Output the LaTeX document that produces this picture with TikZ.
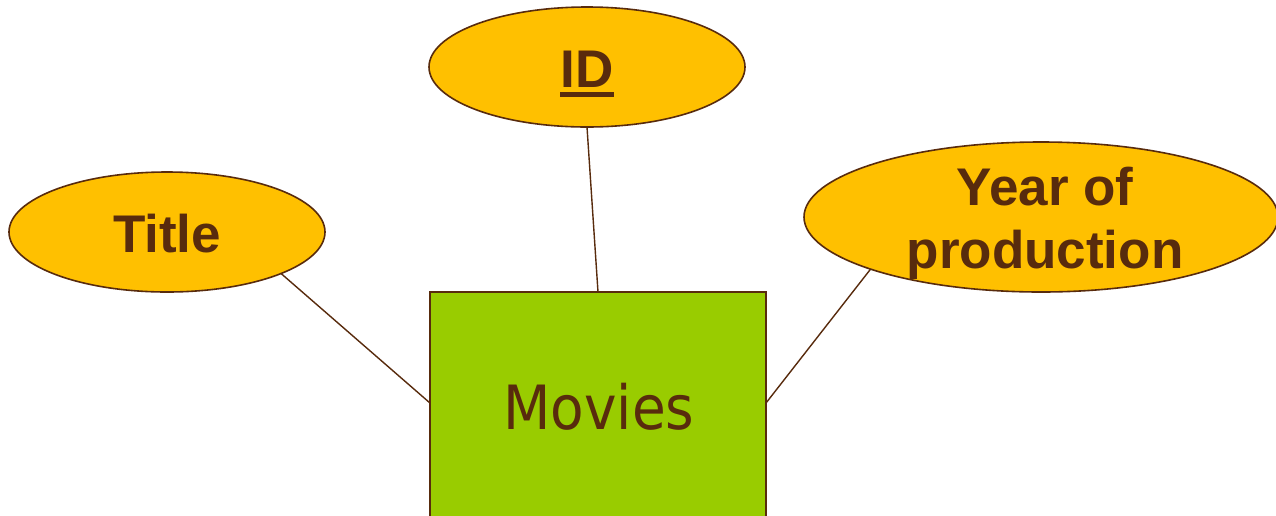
\documentclass[tikz,border=0pt]{standalone}
\usepackage{fontspec}
\setmainfont{Liberation Sans}
\newfontfamily\movfont{DejaVu Sans Condensed}
\usetikzlibrary{shapes.geometric,calc}
\definecolor{brn}{HTML}{582B0D}
\definecolor{gold}{HTML}{FFC000}
\definecolor{lime}{HTML}{99CC00}
\tikzset{
  attr/.style={ellipse,draw=brn,fill=gold,line width=1.6pt,inner sep=0pt,outer sep=0pt},
  attrtext/.style={text=brn,font=\fontsize{53}{63}\selectfont\bfseries,inner sep=0pt,anchor=base},
  entity/.style={rectangle,draw=brn,fill=lime,line width=1.6pt,inner sep=0pt,outer sep=0pt},
  conn/.style={draw=brn,line width=1.4pt}
}
\begin{document}
\begin{tikzpicture}[x=1pt,y=-1pt]
\clip (0,0) rectangle (1276,515);
\fill[white] (0,0) rectangle (1276,515);
% entity
\node[entity,minimum width=336pt,minimum height=300pt,anchor=north] (movies) at (598,292) {};
\node[text=brn,inner sep=0pt,anchor=base,font=\movfont\fontsize{61}{70}\selectfont] (movtext) at (599,429) {Movies};
% attributes
\node[attr,minimum width=316pt,minimum height=120pt] (title) at (167,232) {};
\node[attrtext] (titletext) at (167,252) {Title};
\node[attr,minimum width=316pt,minimum height=120pt] (id) at (587,67) {};
\node[attrtext] (idtext) at (587,87) {ID};
\draw[brn,line width=4.5pt] ($(idtext.base west)+(0,7.5)$) -- ($(idtext.base east)+(0,7.5)$);
\node[attr,minimum width=474pt,minimum height=150pt] (year) at (1041,217) {};
\node[attrtext] (yeartext1) at (1045,205) {Year of};
\node[attrtext] (yeartext2) at (1045,268) {production};
% connectors
\coordinate (mw) at ($(movies.north west)+(0,111)$);
\coordinate (me) at ($(movies.north east)+(0,111)$);
\draw[conn] (title.-20) -- (mw);
\draw[conn] (id.south) -- (movies.north);
\draw[conn] (year.197.7) -- (me);
\end{tikzpicture}
\end{document}
